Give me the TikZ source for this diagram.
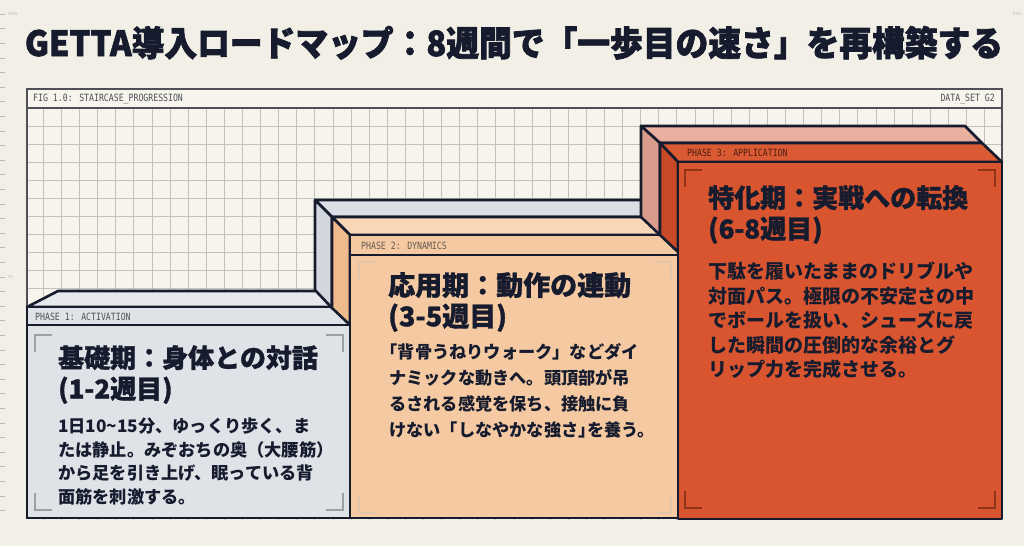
\documentclass[tikz,border=0pt]{standalone}
\usepackage{graphicx}
\usepackage{fontspec}
\setmainfont{Noto Sans CJK JP}
\newfontfamily\heavyf{Noto Sans CJK JP}[FakeBold=1.2]
\newfontfamily\blackf{Noto Sans CJK JP}[FakeBold=2.2]
\newfontfamily\haltf{Noto Sans CJK JP}[RawFeature=+halt]
\newfontfamily\monof{DejaVu Sans Mono}[FakeStretch=0.82]
\definecolor{paper}{HTML}{F2F0E6}
\definecolor{panelc}{HTML}{F6F4EC}
\definecolor{ink}{HTML}{161C2E}
\definecolor{gridc}{HTML}{C3C2BA}
\definecolor{rulec}{HTML}{BDBCB4}
\definecolor{framec}{HTML}{4E5056}
\definecolor{slateA}{HTML}{DFE2E7}
\definecolor{slateB}{HTML}{E6E8EC}
\definecolor{slateC}{HTML}{D2D7DF}
\definecolor{slateD}{HTML}{DCDFE5}
\definecolor{peachA}{HTML}{F5C9A1}
\definecolor{peachB}{HTML}{F8D7B8}
\definecolor{peachC}{HTML}{EFBA8C}
\definecolor{roseA}{HTML}{EAB09F}
\definecolor{roseB}{HTML}{D99C8C}
\definecolor{rustA}{HTML}{D9552F}
\definecolor{rustB}{HTML}{D95A33}
\definecolor{rustC}{HTML}{C94A27}
\newcommand\lbk{{\haltf\bfseries 「}}
\newcommand\rbk{{\haltf\bfseries 」}}
\newcommand\rpar{{\haltf\bfseries ）}}
\newcommand\cornerset[5]{% x1 y1 x2 y2 colour
  \draw[#5,line width=1.3pt] (#1,#2+17)--(#1,#2)--(#1+17,#2);
  \draw[#5,line width=1.3pt] (#3-17,#2)--(#3,#2)--(#3,#2+17);
  \draw[#5,line width=1.3pt] (#1,#4-17)--(#1,#4)--(#1+17,#4);
  \draw[#5,line width=1.3pt] (#3-17,#4)--(#3,#4)--(#3,#4-17);}
\begin{document}
\begin{tikzpicture}[x=1pt,y=-1pt,
  face/.style={draw=ink,line width=2.6pt,line join=round},
  sep/.style={draw=ink,line width=1.4pt},
  hdr/.style={font=\monof\fontsize{10}{10}\selectfont,inner sep=0pt,anchor=west},
  ttl/.style={font=\heavyf\bfseries\fontsize{26}{31}\selectfont,text=ink,align=left,anchor=north west,inner sep=0pt},
  txt/.style={text=ink,align=left,anchor=north west,inner sep=0pt}]
\useasboundingbox[fill=paper] (0,0) rectangle (1024,546);
% ruler ticks
\foreach \k in {0,...,34} \draw[rulec,line width=.6pt] (0,14+14.6*\k)--(5,14+14.6*\k);
\node[text=rulec,font=\fontsize{5}{5}\selectfont,inner sep=0pt,anchor=west] (mmL) at (8,14) {mm};
\node[text=rulec,font=\fontsize{5}{5}\selectfont,inner sep=0pt,anchor=west] (mL) at (8,277) {m};
\node[text=rulec,font=\fontsize{5}{5}\selectfont,inner sep=0pt,anchor=east] (mmR) at (1022,14) {mm};
% title
\node[font=\blackf\bfseries\fontsize{35}{35}\selectfont,text=ink,inner sep=0pt,anchor=base] (title) at (514,56) {\resizebox{978pt}{30pt}{GETTA導入ロードマップ：8週間で「一歩目の速さ」を再構築する}};
% grid panel
\fill[panelc] (27,89) rectangle (1002,519);
\begin{scope}
\clip (27,108) rectangle (1002,519);
\foreach \i in {0,...,53} \draw[gridc,line width=.8pt] (43.3+18.1*\i,108)--++(0,420);
\foreach \j in {0,...,22} \draw[gridc,line width=.8pt] (27,126+18*\j)--++(980,0);
\end{scope}
\draw[framec,line width=1.4pt] (27,519)--(27,89)--(1002,89)--(1002,519);
\draw[framec,line width=1.1pt] (27,108)--(1002,108);
\node[hdr,text=framec] (fig) at (33,99) {FIG 1.0: STAIRCASE\_PROGRESSION};
\node[hdr,text=framec,anchor=east] (dset) at (995,99) {DATA\_SET G2};
% phase 1
\draw[face,fill=slateB] (27,307)--(58,291)--(330,291)--(350,307)--cycle;
\draw[face,fill=slateA] (27,307) rectangle (350,518);
\draw[sep] (27,325)--(350,325);
\node[hdr,text=framec] (ph1) at (35,317) {PHASE 1: ACTIVATION};
\cornerset{35}{335}{343}{510}{gray!75}
\node[ttl] (t1) at (58,345) {基礎期：身体との対話\\(1-2週目)};
\node[txt,font=\bfseries\fontsize{17.2}{23.5}\selectfont] (b1) at (58,418) {1日10\textasciitilde 15分、ゆっくり歩く、ま\\たは静止。みぞおちの奥（大腰筋\rpar\\から足を引き上げ、眠っている背\\面筋を刺激する。};
% phase 2
\draw[face,fill=slateD] (315,200)--(650,200)--(650,217)--(332,217)--cycle;
\draw[face,fill=slateC] (315,200)--(332,217)--(332,308)--(315,290)--cycle;
\draw[face,fill=peachB] (332,217)--(650,217)--(668,235)--(350,235)--cycle;
\draw[face,fill=peachC] (332,217)--(350,235)--(350,325)--(332,308)--cycle;
\draw[face,fill=peachA] (350,235) rectangle (678,518);
\draw[sep] (350,255)--(678,255);
\node[hdr,text=framec!80!brown] (ph2) at (361,246) {PHASE 2: DYNAMICS};
\cornerset{359}{262}{671}{513}{brown!45}
\node[ttl,font=\heavyf\bfseries\fontsize{27}{31}\selectfont] (t2) at (388,272) {応用期：動作の連動\\(3-5週目)};
\node[txt,font=\bfseries\fontsize{17.2}{26}\selectfont] (b2) at (389,343) {\lbk 背骨うねりウォーク」などダイ\\ナミックな動きへ。頭頂部が吊\\るされる感覚を保ち、接触に負\\けない「しなやかな強さ\rbk を養う。};
% phase 3
\draw[face,fill=roseA] (641,126)--(965,126)--(982,143)--(660,143)--cycle;
\draw[face,fill=roseB] (641,126)--(660,143)--(660,235)--(641,217)--cycle;
\draw[face,fill=rustB] (660,143)--(982,143)--(1002,162)--(678,162)--cycle;
\draw[face,fill=rustC] (660,143)--(678,162)--(678,252)--(660,235)--cycle;
\draw[face,fill=rustA] (678,162) rectangle (1002,519);
\node[hdr,text=rustC!40!black] (ph3) at (687,153) {PHASE 3: APPLICATION};
\cornerset{685}{170}{995}{508}{rustC!70!black}
\node[ttl] (t3) at (708,185) {特化期：実戦への転換\\(6-8週目)};
\node[txt,font=\bfseries\fontsize{19}{24.5}\selectfont] (b3) at (708,262) {下駄を履いたままのドリブルや\\対面パス。極限の不安定さの中\\でボールを扱い、シューズに戻\\した瞬間の圧倒的な余裕とグ\\リップ力を完成させる。};
\end{tikzpicture}
\end{document}
